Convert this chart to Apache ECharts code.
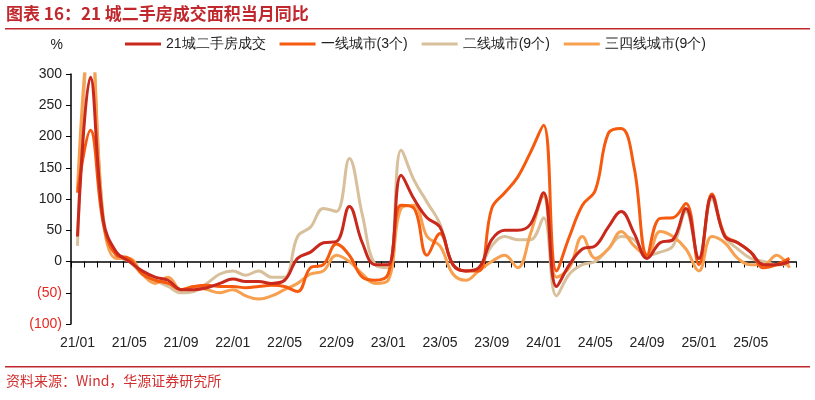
<!DOCTYPE html>
<html><head><meta charset="utf-8">
<script src="https://cdn.jsdelivr.net/npm/echarts@6/dist/echarts.min.js"></script>
<style>html,body{margin:0;padding:0;background:#fff}#c{width:815px;height:400px}</style>
</head><body><div id="c"></div>
<script>
const categories = [];
for (let y = 21; y <= 25; y++) for (let m = 1; m <= 12; m++) { if (y === 25 && m > 8) break; categories.push(y + '/' + String(m).padStart(2, '0')); }
const seriesNames = ['21城二手房成交', '一线城市(3个)', '二线城市(9个)', '三四线城市(9个)'];
const city21 = [40,295,65,15,0,-15,-25,-30,-45,-45,-42,-35,-28,-32,-32,-35,-30,5,15,30,32,88,30,-5,-5,138,100,70,55,-5,-15,-10,35,50,50,60,110,-40,-5,20,25,55,80,45,5,30,35,85,5,105,40,30,15,-5,-5,0];
const tier1 = [110,210,60,10,5,-20,-30,-35,-45,-40,-38,-40,-40,-42,-40,-38,-40,-48,-10,-5,28,10,-25,-30,-20,90,85,10,45,-5,-15,-15,85,110,135,175,218,-15,40,90,114,205,213,150,10,69,70,93,-5,108,42,30,15,-10,-5,5];
const tier2 = [25,380,70,10,0,-20,-30,-40,-50,-48,-35,-20,-15,-22,-15,-25,-25,40,55,85,80,165,75,-5,-10,178,130,95,60,-5,-15,-10,25,40,35,35,70,-55,-20,-5,0,20,40,35,10,15,25,80,5,100,40,20,5,0,-5,-5];
const tier34 = [115,380,65,5,5,-20,-35,-25,-45,-40,-45,-50,-45,-55,-60,-55,-45,-35,-20,-15,10,0,-20,-35,-30,85,90,40,25,-20,-30,-15,0,10,-10,45,105,-25,-10,40,5,20,48,25,10,48,40,20,-15,40,30,5,-5,-5,10,-10];
const colors = ['#C9281C', '#F55A0F', '#D8C09C', '#F7A050'];
const datas = [city21, tier1, tier2, tier34];
const chart = echarts.init(document.getElementById('c'));
const font = 'Liberation Sans, Arial, sans-serif';
chart.setOption({
  animation: false,
  textStyle: { fontFamily: font },
  legend: { top: 32, left: 120, itemWidth: 36, itemHeight: 3, itemGap: 14, icon: 'rect',
    textStyle: { fontSize: 14, color: '#222', fontFamily: font }, data: seriesNames },
  grid: { left: 71, right: 19, top: 74, bottom: 76 },
  xAxis: [
    { type: 'category', data: categories, boundaryGap: true,
      axisLine: { onZero: true, lineStyle: { color: '#000', width: 1.5 } },
      axisTick: { show: true, interval: 0, length: 6, lineStyle: { color: '#000' } },
      axisLabel: { show: false } },
    { type: 'category', data: categories, position: 'bottom', boundaryGap: true,
      axisLine: { show: false }, axisTick: { show: false },
      axisLabel: { interval: 3, fontSize: 14, color: '#222', margin: 12, fontFamily: font } }
  ],
  yAxis: { type: 'value', min: -100, max: 300, interval: 50, name: '%', nameLocation: 'end', nameGap: 22,
    nameTextStyle: { fontSize: 14, color: '#222', align: 'right', padding: [0, 8, 0, 0] },
    axisLine: { show: true, lineStyle: { color: '#000', width: 1.5 } },
    axisTick: { show: true, length: 5, inside: false, lineStyle: { color: '#000' } },
    splitLine: { show: false },
    axisLabel: { fontSize: 14, margin: 9,
      formatter: v => v < 0 ? '(' + (-v) + ')' : String(v),
      color: v => (Number(v) < 0 ? '#E8261F' : '#222') } },
  series: datas.map((d, i) => ({ name: seriesNames[i], type: 'line', data: d, smooth: 0.4,
    showSymbol: false, clip: true, z: [4,3,1,2][i],
    lineStyle: { color: colors[i], width: 3 }, itemStyle: { color: colors[i] } })),
  graphic: [
    { type: 'text', left: 6, top: 5, style: { text: '图表 16：21 城二手房成交面积当月同比', fill: '#C0282D', font: 'bold 17px "Noto Sans CJK SC", sans-serif' } },
    { type: 'rect', shape: { x: 5, y: 28, width: 805, height: 1.5 }, style: { fill: '#C0282D' } },
    { type: 'rect', shape: { x: 5, y: 366, width: 805, height: 1.5 }, style: { fill: '#C0282D' } },
    { type: 'text', left: 6, top: 374, style: { text: '资料来源：Wind，华源证券研究所', fill: '#D22F2F', font: '14px "Noto Sans CJK SC", monospace' } }
  ]
});
</script></body></html>
